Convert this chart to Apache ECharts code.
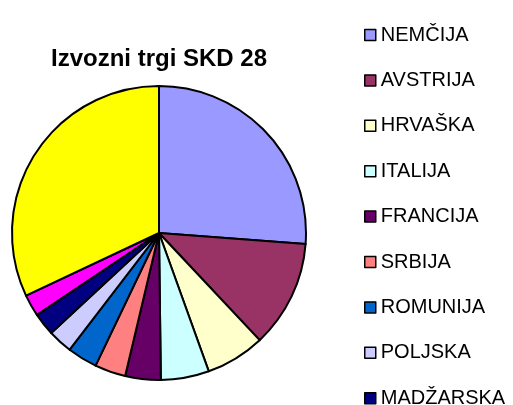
<!DOCTYPE html>
<html>
<head>
<meta charset="utf-8">
<script src="https://cdn.jsdelivr.net/npm/echarts@6/dist/echarts.min.js"></script>
<style>
  html, body { margin: 0; padding: 0; background: #fff; }
  #chart { width: 513px; height: 405px; }
</style>
</head>
<body>
<div id="chart"></div>
<script>
// izvozni trgi - deleži po državah (odčitano s slike)
var countries = ['NEMČIJA', 'AVSTRIJA', 'HRVAŠKA', 'ITALIJA', 'FRANCIJA', 'SRBIJA',
                 'ROMUNIJA', 'POLJSKA', 'MADŽARSKA', 'RUSIJA', 'OSTALO'];
var shares = [26.2, 11.8, 6.5, 5.3, 3.9, 3.4, 3.3, 2.7, 2.5, 2.4, 32.0];
var colors = ['#9999FF', '#993366', '#FFFFCC', '#CCFFFF', '#660066', '#FF8080',
              '#0066CC', '#CCCCFF', '#000080', '#FF00FF', '#FFFF00'];

var chart = echarts.init(document.getElementById('chart'), null, { renderer: 'canvas' });

var pieData = [];
for (var i = 0; i < countries.length; i++) {
    pieData.push({ name: countries[i], value: shares[i], itemStyle: { color: colors[i] } });
}

var option = {
    backgroundColor: '#ffffff',
    animation: false,
    title: {
        text: 'Izvozni trgi SKD 28',
        left: 46,
        top: 42,
        textStyle: { fontFamily: 'Liberation Sans', fontWeight: 'bold', fontSize: 24, color: '#000' }
    },
    // naslov nad grafom, na sliki skoraj v celoti odrezan
    graphic: [{
        type: 'text',
        x: -24,
        y: 0,
        silent: true,
        style: {
            text: 'Izvoz podjetij SKD 28 po državah (v %)',
            font: 'bold 29px "Liberation Sans"',
            fill: '#000',
            verticalAlign: 'bottom'
        }
    }],
    legend: {
        orient: 'vertical',
        left: 364,
        top: 25,
        height: 1000,
        padding: 0,
        itemWidth: 11,
        itemHeight: 11,
        itemGap: 25.4,
        icon: 'rect',
        selectedMode: false,
        itemStyle: { borderColor: '#000', borderWidth: 1.5 },
        textStyle: { fontFamily: 'Liberation Sans', fontSize: 20, color: '#000', lineHeight: 20 },
        data: countries
    },
    series: [{
        type: 'pie',
        center: [159, 233],
        radius: [0, 147],
        startAngle: 90,
        clockwise: true,
        label: { show: false },
        labelLine: { show: false },
        emphasis: { disabled: true },
        itemStyle: { borderColor: '#000', borderWidth: 2 },
        data: pieData
    }]
};

chart.setOption(option);
</script>
</body>
</html>
